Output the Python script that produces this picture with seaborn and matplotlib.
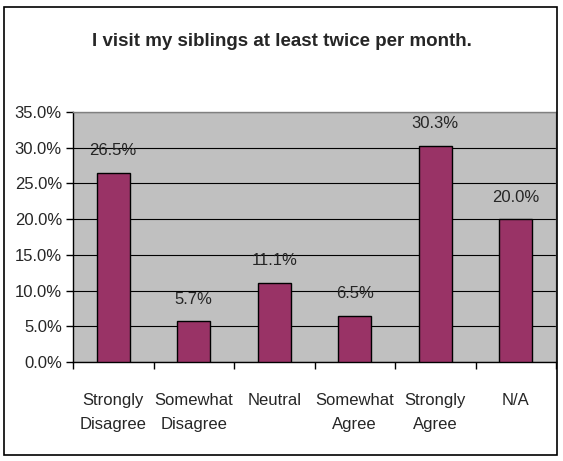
import numpy as np
import pandas as pd
import matplotlib
matplotlib.use("Agg")
import matplotlib.pyplot as plt
import seaborn as sns
from matplotlib.patches import Rectangle
from matplotlib.ticker import FuncFormatter, FixedLocator

# ---- data ----
categories = ["Strongly\nDisagree", "Somewhat\nDisagree", "Neutral",
              "Somewhat\nAgree", "Strongly\nAgree", "N/A"]
values = [26.5, 5.7, 11.1, 6.5, 30.3, 20.0]
title = "I visit my siblings at least twice per month."

df = pd.DataFrame({"category": categories, "pct": values})

sns.set_theme(style="white")
plt.rcParams["font.family"] = ["Liberation Sans Narrow", "Liberation Sans", "DejaVu Sans"]

fig = plt.figure(figsize=(5.63, 4.61), dpi=100)
ax = fig.add_axes([73/563, 99/461, 483/563, 250/461])
ax.set_facecolor("#C0C0C0")

sns.barplot(data=df, x="category", y="pct", color="#993366", width=0.41,
            edgecolor="black", linewidth=1.0, saturation=1, ax=ax, zorder=3)

ax.set_ylim(0, 35)
ax.set_xlim(-0.5, len(categories) - 0.5)
ax.set_yticks(np.arange(0, 35.1, 5))
ax.yaxis.set_major_formatter(FuncFormatter(lambda v, p: f"{v:.1f}%"))
ax.grid(axis="y", color="black", linewidth=0.8, zorder=1)
ax.set_axisbelow(True)

# category boundaries get the tick marks
ax.xaxis.set_minor_locator(FixedLocator(np.arange(-0.5, len(categories), 1)))
ax.tick_params(axis="x", which="major", length=0, pad=22, labelsize=12)
ax.tick_params(axis="x", which="minor", length=5, width=1, color="black", direction="out", bottom=True)
ax.tick_params(axis="y", length=5, width=1, color="black", direction="out", left=True,
               labelsize=12, pad=3)
for lbl in ax.get_xticklabels():
    lbl.set_linespacing(1.75)
ax.set_xlabel("")
ax.set_ylabel("")

for s in ["left", "bottom"]:
    ax.spines[s].set_color("black")
    ax.spines[s].set_linewidth(1)
for s in ["top", "right"]:
    ax.spines[s].set_color("#808080")
    ax.spines[s].set_linewidth(1)

for i, v in enumerate(values):
    ax.text(i, v + 2.0, f"{v:.1f}%", ha="center", va="bottom", fontsize=12)

fig.text(282/563, 1 - 42/461, title, ha="center", va="center",
         fontsize=13.5, fontweight="bold")

fig.patches.append(Rectangle((4/563, 6/461), 553/563, 448/461, transform=fig.transFigure,
                             fill=False, edgecolor="black", linewidth=1.2))

fig.savefig("out.png", dpi=100)
